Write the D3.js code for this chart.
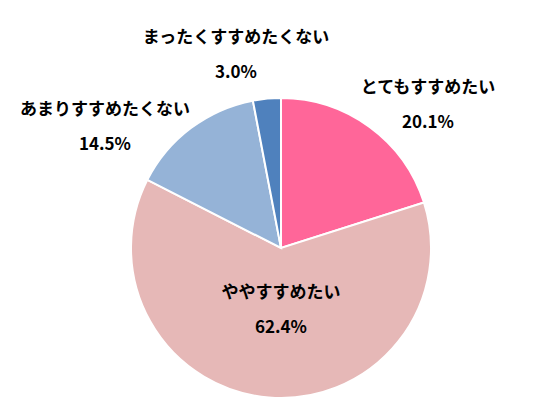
<!DOCTYPE html>
<html><head><meta charset="utf-8">
<script src="https://cdn.jsdelivr.net/npm/d3@7"></script>
<style>body{margin:0;background:#fff}text{font-family:"Noto Sans CJK JP",sans-serif;font-weight:bold;font-size:17px;fill:#000}</style>
</head><body>
<svg id="c" width="544" height="419"></svg>
<script>
const labels = ["とてもすすめたい", "ややすすめたい", "あまりすすめたくない", "まったくすすめたくない"];
const values = [20.1, 62.4, 14.5, 3.0];
const colors = ["#FF6699", "#E6B8B7", "#95B3D7", "#4F81BD"];
// label anchor positions relative to chart
const labelPos = [[428, 88], [281, 293], [105, 110], [236, 38]];

const svg = d3.select("#c");
const g = svg.append("g").attr("transform", "translate(281,248)");
const pie = d3.pie().sort(null).value(d => d)(values);
const arc = d3.arc().innerRadius(0).outerRadius(150);

g.selectAll("path").data(pie).enter().append("path")
    .attr("d", arc)
    .attr("fill", (d, i) => colors[i])
    .attr("stroke", "#fff").attr("stroke-width", 2);

labels.forEach((l, i) => {
    const [x, y] = labelPos[i];
    svg.append("text").attr("x", x).attr("y", y).attr("text-anchor", "middle")
        .attr("dominant-baseline", "middle").text(l);
    svg.append("text").attr("x", x).attr("y", y + 35).attr("text-anchor", "middle")
        .attr("dominant-baseline", "middle").text(values[i].toFixed(1) + "%");
});
</script>
</body></html>
